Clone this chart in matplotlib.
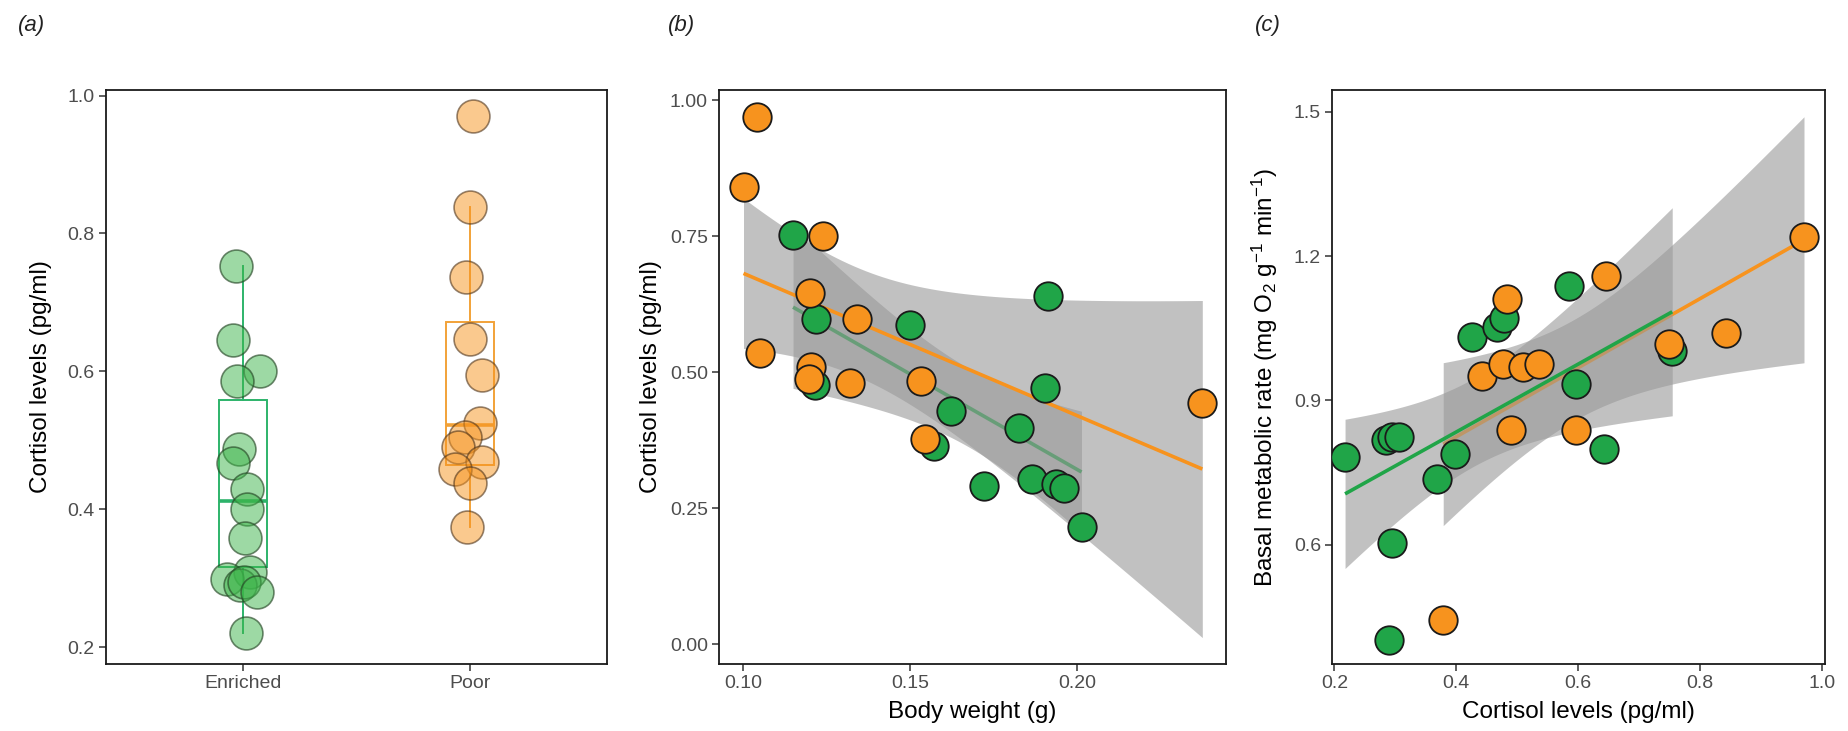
import numpy as np
import matplotlib
matplotlib.use("Agg")
import matplotlib.pyplot as plt

plt.rcParams['font.family'] = ['Liberation Sans', 'DejaVu Sans']
plt.rcParams['mathtext.default'] = 'regular'

# ---------------- data ----------------
# Panel (a): cortisol by environment
groups = ["Enriched", "Poor"]
enriched_cortisol = [0.753, 0.646, 0.600, 0.586, 0.487, 0.468, 0.429, 0.400, 0.359,
                     0.310, 0.299, 0.291, 0.295, 0.281, 0.221]
enriched_jitter = [-0.03, -0.042, 0.076, -0.025, -0.016, -0.042, 0.019, 0.019, 0.011,
                   0.033, -0.068, -0.011, 0.005, 0.063, 0.017]
poor_cortisol = [0.971, 0.839, 0.737, 0.647, 0.595, 0.525, 0.505, 0.491, 0.469, 0.458, 0.439, 0.375]
poor_jitter = [0.012, 0.0, -0.02, 0.0, 0.049, 0.043, -0.023, -0.054, 0.051, -0.067, 0.0, -0.015]
# box statistics: q1, median, q3, lower whisker, upper whisker
enriched_box = [0.317, 0.412, 0.559, 0.221, 0.753]
poor_box = [0.465, 0.523, 0.672, 0.375, 0.839]

# Panel (b): body weight vs cortisol
b_enriched_weight = [0.1150, 0.1219, 0.1215, 0.1501, 0.1911, 0.1902, 0.1622, 0.1570, 0.1824,
                     0.1722, 0.1864, 0.1935, 0.1960, 0.2012]
b_enriched_cortisol = [0.752, 0.598, 0.476, 0.587, 0.641, 0.471, 0.428, 0.364, 0.398,
                       0.291, 0.304, 0.295, 0.288, 0.215]
b_poor_weight = [0.1041, 0.1002, 0.1239, 0.1201, 0.1341, 0.1050, 0.1205, 0.1199, 0.1320,
                 0.1533, 0.1544, 0.2373]
b_poor_cortisol = [0.970, 0.841, 0.751, 0.646, 0.598, 0.536, 0.510, 0.488, 0.480,
                   0.484, 0.378, 0.444]

# Panel (c): cortisol vs basal metabolic rate
c_enriched_cortisol = [0.2175, 0.2844, 0.2950, 0.3053, 0.2938, 0.2890, 0.3682, 0.3984, 0.4266,
                       0.4675, 0.4786, 0.5857, 0.5970, 0.6430, 0.7545]
c_enriched_bmr = [0.783, 0.817, 0.823, 0.823, 0.603, 0.402, 0.736, 0.788, 1.031,
                  1.052, 1.072, 1.137, 0.934, 0.798, 1.002]
c_poor_cortisol = [0.9708, 0.6460, 0.4825, 0.4416, 0.4770, 0.5097, 0.5357, 0.4900, 0.5960,
                   0.7500, 0.8430, 0.3786]
c_poor_bmr = [1.240, 1.159, 1.111, 0.950, 0.975, 0.970, 0.975, 0.838, 0.838,
              1.018, 1.041, 0.444]

# ---------------- styling ----------------
GREEN = '#20a548'
ORANGE = '#f7931e'
GREEN_BOX = '#2db36a'
ORANGE_BOX = '#f2a238'
TICK_C = '#4d4d4d'
T975 = {8: 2.306, 9: 2.262, 10: 2.228, 11: 2.201, 12: 2.179, 13: 2.160, 14: 2.145, 15: 2.131}

fig = plt.figure(figsize=(18.49, 7.31), dpi=100)
bottom, height = 0.0917, 0.7852
ax_a = fig.add_axes([0.0573, bottom, 0.2710, height])
ax_b = fig.add_axes([0.3889, bottom, 0.2742, height])
ax_c = fig.add_axes([0.7204, bottom, 0.2666, height])


def style(ax):
    for s in ax.spines.values():
        s.set_linewidth(1.3)
        s.set_color('#1a1a1a')
    ax.tick_params(axis='both', which='major', length=5, width=1.1, color='#333333',
                   labelsize=14, labelcolor=TICK_C, pad=3)
    ax.set_facecolor('white')


def lm_band(ax, x, y, color, zorder):
    x = np.asarray(x); y = np.asarray(y)
    n = len(x)
    slope, intercept = np.polyfit(x, y, 1)
    xs = np.linspace(x.min(), x.max(), 80)
    fit = intercept + slope * xs
    resid = y - (intercept + slope * x)
    s = np.sqrt(np.sum(resid ** 2) / (n - 2))
    sxx = np.sum((x - x.mean()) ** 2)
    se = s * np.sqrt(1.0 / n + (xs - x.mean()) ** 2 / sxx)
    t = T975[n - 2]
    ax.fill_between(xs, fit - t * se, fit + t * se, color='#999999', alpha=0.6,
                    linewidth=0, zorder=zorder)
    ax.plot(xs, fit, color=color, lw=2.6, zorder=zorder + 0.1, solid_capstyle='butt')


# ---------------- panel (a) ----------------
stats = []
for lab, b in zip(groups, [enriched_box, poor_box]):
    stats.append(dict(label=lab, q1=b[0], med=b[1], q3=b[2], whislo=b[3], whishi=b[4], fliers=[]))
bp = ax_a.bxp(stats, positions=[1, 2], widths=0.21, showcaps=False, showfliers=False,
              patch_artist=True)
for i, col in enumerate([GREEN_BOX, ORANGE_BOX]):
    bp['boxes'][i].set(facecolor='none', edgecolor=col, linewidth=1.4)
    bp['medians'][i].set(color=col, linewidth=2.6)
    for w in bp['whiskers'][2 * i:2 * i + 2]:
        w.set(color=col, linewidth=1.4)

ax_a.scatter(1 + np.asarray(enriched_jitter), enriched_cortisol, s=560,
             facecolor=(0.24, 0.71, 0.29, 0.5), edgecolor=(0.15, 0.28, 0.15, 0.65),
             linewidth=1.2, zorder=3)
ax_a.scatter(2 + np.asarray(poor_jitter), poor_cortisol, s=560,
             facecolor=(0.97, 0.58, 0.12, 0.5), edgecolor=(0.3, 0.2, 0.1, 0.6),
             linewidth=1.2, zorder=3)
ax_a.set_xlim(0.4, 2.6)
ax_a.set_ylim(0.176, 1.008)
ax_a.set_xticks([1, 2])
ax_a.set_xticklabels(groups)
ax_a.set_yticks([0.2, 0.4, 0.6, 0.8, 1.0])
ax_a.set_yticklabels(['0.2', '0.4', '0.6', '0.8', '1.0'])
ax_a.set_ylabel('Cortisol levels (pg/ml)', fontsize=17.5)
ax_a.yaxis.set_label_coords(-0.108, 0.5)
style(ax_a)

# ---------------- panel (b) ----------------
lm_band(ax_b, b_enriched_weight, b_enriched_cortisol, GREEN, 1)
lm_band(ax_b, b_poor_weight, b_poor_cortisol, ORANGE, 2)
ax_b.scatter(b_enriched_weight, b_enriched_cortisol, s=420, facecolor=GREEN,
             edgecolor='#1a1a1a', linewidth=1.3, zorder=4)
ax_b.scatter(b_poor_weight, b_poor_cortisol, s=420, facecolor=ORANGE,
             edgecolor='#1a1a1a', linewidth=1.3, zorder=4)
ax_b.set_xlim(0.0929, 0.2444)
ax_b.set_ylim(-0.0361, 1.0189)
ax_b.set_xticks([0.10, 0.15, 0.20])
ax_b.set_xticklabels(['0.10', '0.15', '0.20'])
ax_b.set_yticks([0.0, 0.25, 0.5, 0.75, 1.0])
ax_b.set_yticklabels(['0.00', '0.25', '0.50', '0.75', '1.00'])
ax_b.set_ylabel('Cortisol levels (pg/ml)', fontsize=17.5)
ax_b.set_xlabel('Body weight (g)', fontsize=17.5)
ax_b.yaxis.set_label_coords(-0.112, 0.5)
ax_b.xaxis.set_label_coords(0.5, -0.064)
style(ax_b)

# ---------------- panel (c) ----------------
lm_band(ax_c, c_poor_cortisol, c_poor_bmr, ORANGE, 1)
lm_band(ax_c, c_enriched_cortisol, c_enriched_bmr, GREEN, 2)
ax_c.scatter(c_enriched_cortisol, c_enriched_bmr, s=420, facecolor=GREEN,
             edgecolor='#1a1a1a', linewidth=1.3, zorder=4)
ax_c.scatter(c_poor_cortisol, c_poor_bmr, s=420, facecolor=ORANGE,
             edgecolor='#1a1a1a', linewidth=1.3, zorder=4)
ax_c.set_xlim(0.1961, 1.0052)
ax_c.set_ylim(0.3519, 1.5457)
ax_c.set_xticks([0.2, 0.4, 0.6, 0.8, 1.0])
ax_c.set_xticklabels(['0.2', '0.4', '0.6', '0.8', '1.0'])
ax_c.set_yticks([0.6, 0.9, 1.2, 1.5])
ax_c.set_yticklabels(['0.6', '0.9', '1.2', '1.5'])
ax_c.set_ylabel('Basal metabolic rate (mg O$_2$ g$^{-1}$ min$^{-1}$)', fontsize=17.5)
ax_c.set_xlabel('Cortisol levels (pg/ml)', fontsize=17.5)
ax_c.yaxis.set_label_coords(-0.105, 0.5)
ax_c.xaxis.set_label_coords(0.5, -0.064)
style(ax_c)

# panel letters
for xpx, lab in [(18, 'a'), (668, 'b'), (1255, 'c')]:
    fig.text(xpx / 1849, 1 - 25 / 731, '(' + lab + ')', fontsize=16, style='italic',
             ha='left', va='center', color='#222222')

fig.savefig('out.png', dpi=100, facecolor='white')
